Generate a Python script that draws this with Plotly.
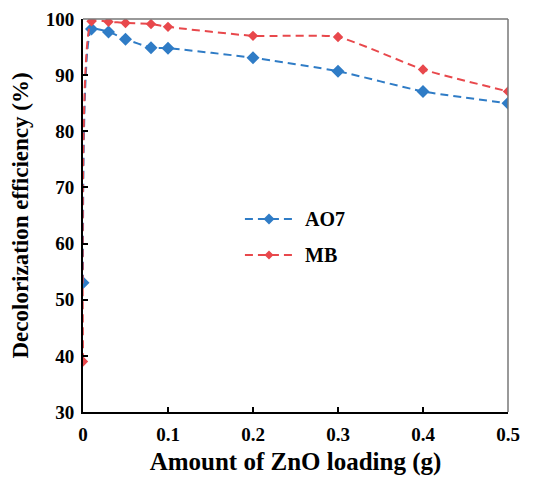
import plotly.graph_objects as go

x_vals = [0, 0.01, 0.03, 0.05, 0.08, 0.1, 0.2, 0.3, 0.4, 0.5]
ao7 = [53, 98.2, 97.7, 96.4, 94.9, 94.8, 93.1, 90.7, 87.1, 85.0]
mb = [39, 99.6, 99.5, 99.3, 99.1, 98.6, 97.0, 96.8, 91.0, 87.1]

x_ticks = [0, 0.1, 0.2, 0.3, 0.4, 0.5]
x_ticklabels = ["0", "0.1", "0.2", "0.3", "0.4", "0.5"]
y_ticks = [30, 40, 50, 60, 70, 80, 90, 100]

series_names = ["AO7", "MB"]
series_colors = ["#2F7CC6", "#E8484C"]
marker_sizes = [10, 8]

font_family = "Liberation Serif"
dash_style = "8px,5px"

fig = go.Figure()
for name, vals, color, msize in zip(series_names, [ao7, mb], series_colors, marker_sizes):
    fig.add_trace(go.Scatter(
        x=x_vals, y=vals, name=name, mode="lines+markers", showlegend=False,
        line=dict(color=color, width=2, dash=dash_style, shape="spline", smoothing=0.5),
        marker=dict(symbol="diamond", size=msize, color=color),
    ))

# manual legend (longer sample lines than Plotly's built-in legend)
legend_x0, legend_x1, legend_mx, legend_tx = 0.381, 0.494, 0.4376, 0.517
legend_ys = [0.491, 0.3995]
shapes = [
    dict(type="line", xref="paper", yref="paper", x0=0, x1=1, y0=1, y1=1,
         line=dict(color="#777777", width=1.5)),
    dict(type="line", xref="paper", yref="paper", x0=1, x1=1, y0=0, y1=1,
         line=dict(color="#777777", width=1.5)),
]
annotations = []
for name, color, msize, ly in zip(series_names, series_colors, marker_sizes, legend_ys):
    shapes.append(dict(type="line", xref="paper", yref="paper",
                       x0=legend_x0, x1=legend_x1, y0=ly, y1=ly,
                       line=dict(color=color, width=2, dash=dash_style)))
    h = msize / 2 + 0.5
    shapes.append(dict(type="path", xref="paper", yref="paper",
                       xsizemode="pixel", ysizemode="pixel",
                       xanchor=legend_mx, yanchor=ly,
                       path=f"M0,{h} L{h},0 L0,{-h} L{-h},0 Z",
                       fillcolor=color, line=dict(color=color, width=0)))
    annotations.append(dict(xref="paper", yref="paper", x=legend_tx, y=ly,
                            xanchor="left", yanchor="middle", showarrow=False,
                            text=name,
                            font=dict(family=font_family, size=20, color="black", weight="bold")))

fig.update_layout(
    width=535, height=477,
    margin=dict(l=75, r=35, t=11, b=73),
    paper_bgcolor="white", plot_bgcolor="white",
    font=dict(family=font_family, color="black"),
    showlegend=False,
    xaxis=dict(
        range=[0, 0.5], tickvals=x_ticks, ticktext=x_ticklabels,
        showgrid=False, zeroline=False, showline=True, linecolor="black", linewidth=2,
        ticks="inside", ticklen=5, tickwidth=1.5, tickcolor="black", automargin=False,
        ticklabelstandoff=4,
        tickfont=dict(family=font_family, size=19, color="black", weight="bold"),
        title=dict(text="Amount of ZnO loading (g)", standoff=9,
                   font=dict(family=font_family, size=25, color="black", weight="bold")),
    ),
    yaxis=dict(
        range=[30, 100], tickvals=y_ticks,
        showgrid=False, zeroline=False, showline=True, linecolor="black", linewidth=2,
        ticks="inside", ticklen=5, tickwidth=1.5, tickcolor="black", automargin=False,
        ticklabelstandoff=3,
        tickfont=dict(family=font_family, size=19, color="black", weight="bold"),
        title=dict(text="Decolorization efficiency (%)", standoff=11,
                   font=dict(family=font_family, size=23, color="black", weight="bold")),
    ),
    shapes=shapes,
    annotations=annotations,
)

fig.write_html("out.html")
